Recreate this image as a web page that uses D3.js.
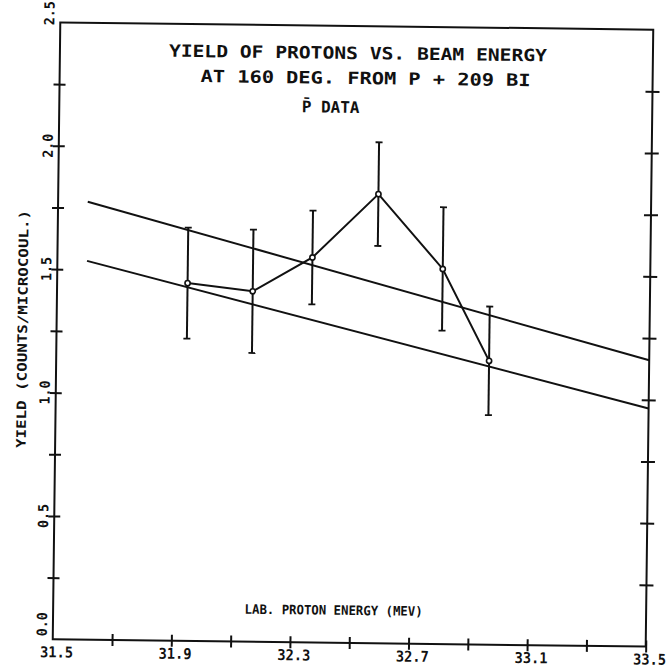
<!DOCTYPE html>
<html>
<head>
<meta charset="utf-8">
<script src="https://cdn.jsdelivr.net/npm/d3@7"></script>
<style>
html,body{margin:0;padding:0;background:#fff;}
svg text{font-family:"DejaVu Sans Mono",monospace;fill:#111;font-weight:bold;}
</style>
</head>
<body>
<svg id="chart" width="670" height="670"></svg>
<script>
// ---- data ----
const energy   = [31.94, 32.16, 32.36, 32.58, 32.80, 32.96];
const yieldVal = [1.45, 1.42, 1.56, 1.82, 1.52, 1.15];
const yieldErr = [0.225, 0.25, 0.19, 0.21, 0.25, 0.22];

const fitX      = [31.60, 33.50];
const fitUpperY = [1.775, 1.16];
const fitLowerY = [1.535, 0.965];

const xTicks  = [31.7, 31.9, 32.1, 32.3, 32.5, 32.7, 32.9, 33.1, 33.3, 33.5];
const xLabels = ["31.5", "31.9", "32.3", "32.7", "33.1", "33.5"];
const yTicks  = [0.25, 0.5, 0.75, 1.0, 1.25, 1.5, 1.75, 2.0, 2.25];
const yLabels = ["0.0", "0.5", "1.0", "1.5", "2.0", "2.5"];

const titleLines = ["YIELD OF PROTONS VS. BEAM ENERGY", "AT 160 DEG. FROM P + 209 BI", "P\u0304 DATA"];
const xTitle = "LAB. PROTON ENERGY (MEV)";
const yTitle = "YIELD (COUNTS/MICROCOUL.)";

// ---- layout ----
const svg = d3.select("#chart");
const L = 56.5, R = 649.5, T = 26, B = 643;
const x = d3.scaleLinear().domain([31.5, 33.5]).range([L, R]);
const y = d3.scaleLinear().domain([0, 2.5]).range([B, T]);
const ink = "#111";

// scanned page is slightly rotated
const g = svg.append("g").attr("transform", "rotate(0.7,353,334.5)");

// frame
g.append("rect").attr("x", L).attr("y", T).attr("width", R - L).attr("height", B - T)
  .attr("fill", "none").attr("stroke", ink).attr("stroke-width", 2);

// bottom axis
const xa = g.append("g").attr("transform", `translate(0,${B})`)
  .call(d3.axisBottom(x).tickValues(xTicks).tickFormat(() => ""));
xa.select(".domain").remove();
xa.selectAll(".tick line").attr("y1", -6).attr("y2", 6).attr("stroke", ink).attr("stroke-width", 2);
g.append("g").selectAll("text").data(xLabels).join("text")
  .attr("x", d => x(+d) + 4).attr("y", B + 18)
  .attr("text-anchor", "middle").attr("font-size", 15)
  .attr("textLength", 33).attr("lengthAdjust", "spacingAndGlyphs")
  .text(d => d);

// left axis
const ya = g.append("g").attr("transform", `translate(${L},0)`)
  .call(d3.axisLeft(y).tickValues(yTicks).tickFormat(() => ""));
ya.select(".domain").remove();
ya.selectAll(".tick line").attr("x1", -6).attr("x2", 6).attr("stroke", ink).attr("stroke-width", 2);

// right axis
const yr = g.append("g").attr("transform", `translate(${R},0)`)
  .call(d3.axisRight(y).tickValues(yTicks).tickFormat(() => ""));
yr.select(".domain").remove();
yr.selectAll(".tick line").attr("x1", -7).attr("x2", 7).attr("stroke", ink).attr("stroke-width", 2);

// y labels (rotated)
g.append("g").selectAll("text").data(yLabels).join("text")
  .attr("transform", d => {
    const v = +d;
    let yy = y(v);
    if (v === 0) yy = B - 3;
    if (v === 2.5) yy = T + 3;
    return `translate(${L - 6},${yy}) rotate(-90)`;
  })
  .attr("text-anchor", d => (+d === 0 || +d === 2.5) ? "start" : "middle")
  .attr("font-size", 14)
  .attr("textLength", 24).attr("lengthAdjust", "spacingAndGlyphs")
  .text(d => d);

// axis titles
g.append("text").attr("transform", `translate(27,333) rotate(-90)`)
  .attr("text-anchor", "middle").attr("font-size", 13)
  .attr("textLength", 238).attr("lengthAdjust", "spacingAndGlyphs")
  .text(yTitle);
g.append("text").attr("x", 337).attr("y", 615)
  .attr("text-anchor", "middle").attr("font-size", 13)
  .attr("textLength", 178).attr("lengthAdjust", "spacingAndGlyphs")
  .text(xTitle);

// chart title
g.append("text").attr("x", 165.5).attr("y", 59).attr("font-size", 17)
  .attr("textLength", 378).attr("lengthAdjust", "spacingAndGlyphs").text(titleLines[0]);
g.append("text").attr("x", 197.5).attr("y", 84).attr("font-size", 17)
  .attr("textLength", 330).attr("lengthAdjust", "spacingAndGlyphs").text(titleLines[1]);
g.append("text").attr("x", 299).attr("y", 113).attr("font-size", 16)
  .text(titleLines[2]);

// fit lines
const line = d3.line().x(d => x(d[0])).y(d => y(d[1]));
[fitUpperY, fitLowerY].forEach(ys => {
  g.append("path").datum(fitX.map((e, i) => [e, ys[i]]))
    .attr("d", line).attr("fill", "none").attr("stroke", ink).attr("stroke-width", 2);
});

// data
const pts = energy.map((e, i) => ({e, v: yieldVal[i], err: yieldErr[i]}));
g.append("path").datum(pts.map(p => [p.e, p.v]))
  .attr("d", line).attr("fill", "none").attr("stroke", ink).attr("stroke-width", 2);

const eb = g.append("g").selectAll("g").data(pts).join("g");
eb.append("line").attr("x1", d => x(d.e)).attr("x2", d => x(d.e))
  .attr("y1", d => y(d.v + d.err)).attr("y2", d => y(d.v - d.err))
  .attr("stroke", ink).attr("stroke-width", 2);
eb.append("line").attr("x1", d => x(d.e) - 3.5).attr("x2", d => x(d.e) + 3.5)
  .attr("y1", d => y(d.v + d.err)).attr("y2", d => y(d.v + d.err))
  .attr("stroke", ink).attr("stroke-width", 1.8);
eb.append("line").attr("x1", d => x(d.e) - 3.5).attr("x2", d => x(d.e) + 3.5)
  .attr("y1", d => y(d.v - d.err)).attr("y2", d => y(d.v - d.err))
  .attr("stroke", ink).attr("stroke-width", 1.8);
eb.append("circle").attr("cx", d => x(d.e)).attr("cy", d => y(d.v)).attr("r", 2.6)
  .attr("fill", "#fff").attr("stroke", ink).attr("stroke-width", 1.6);
</script>
</body>
</html>
